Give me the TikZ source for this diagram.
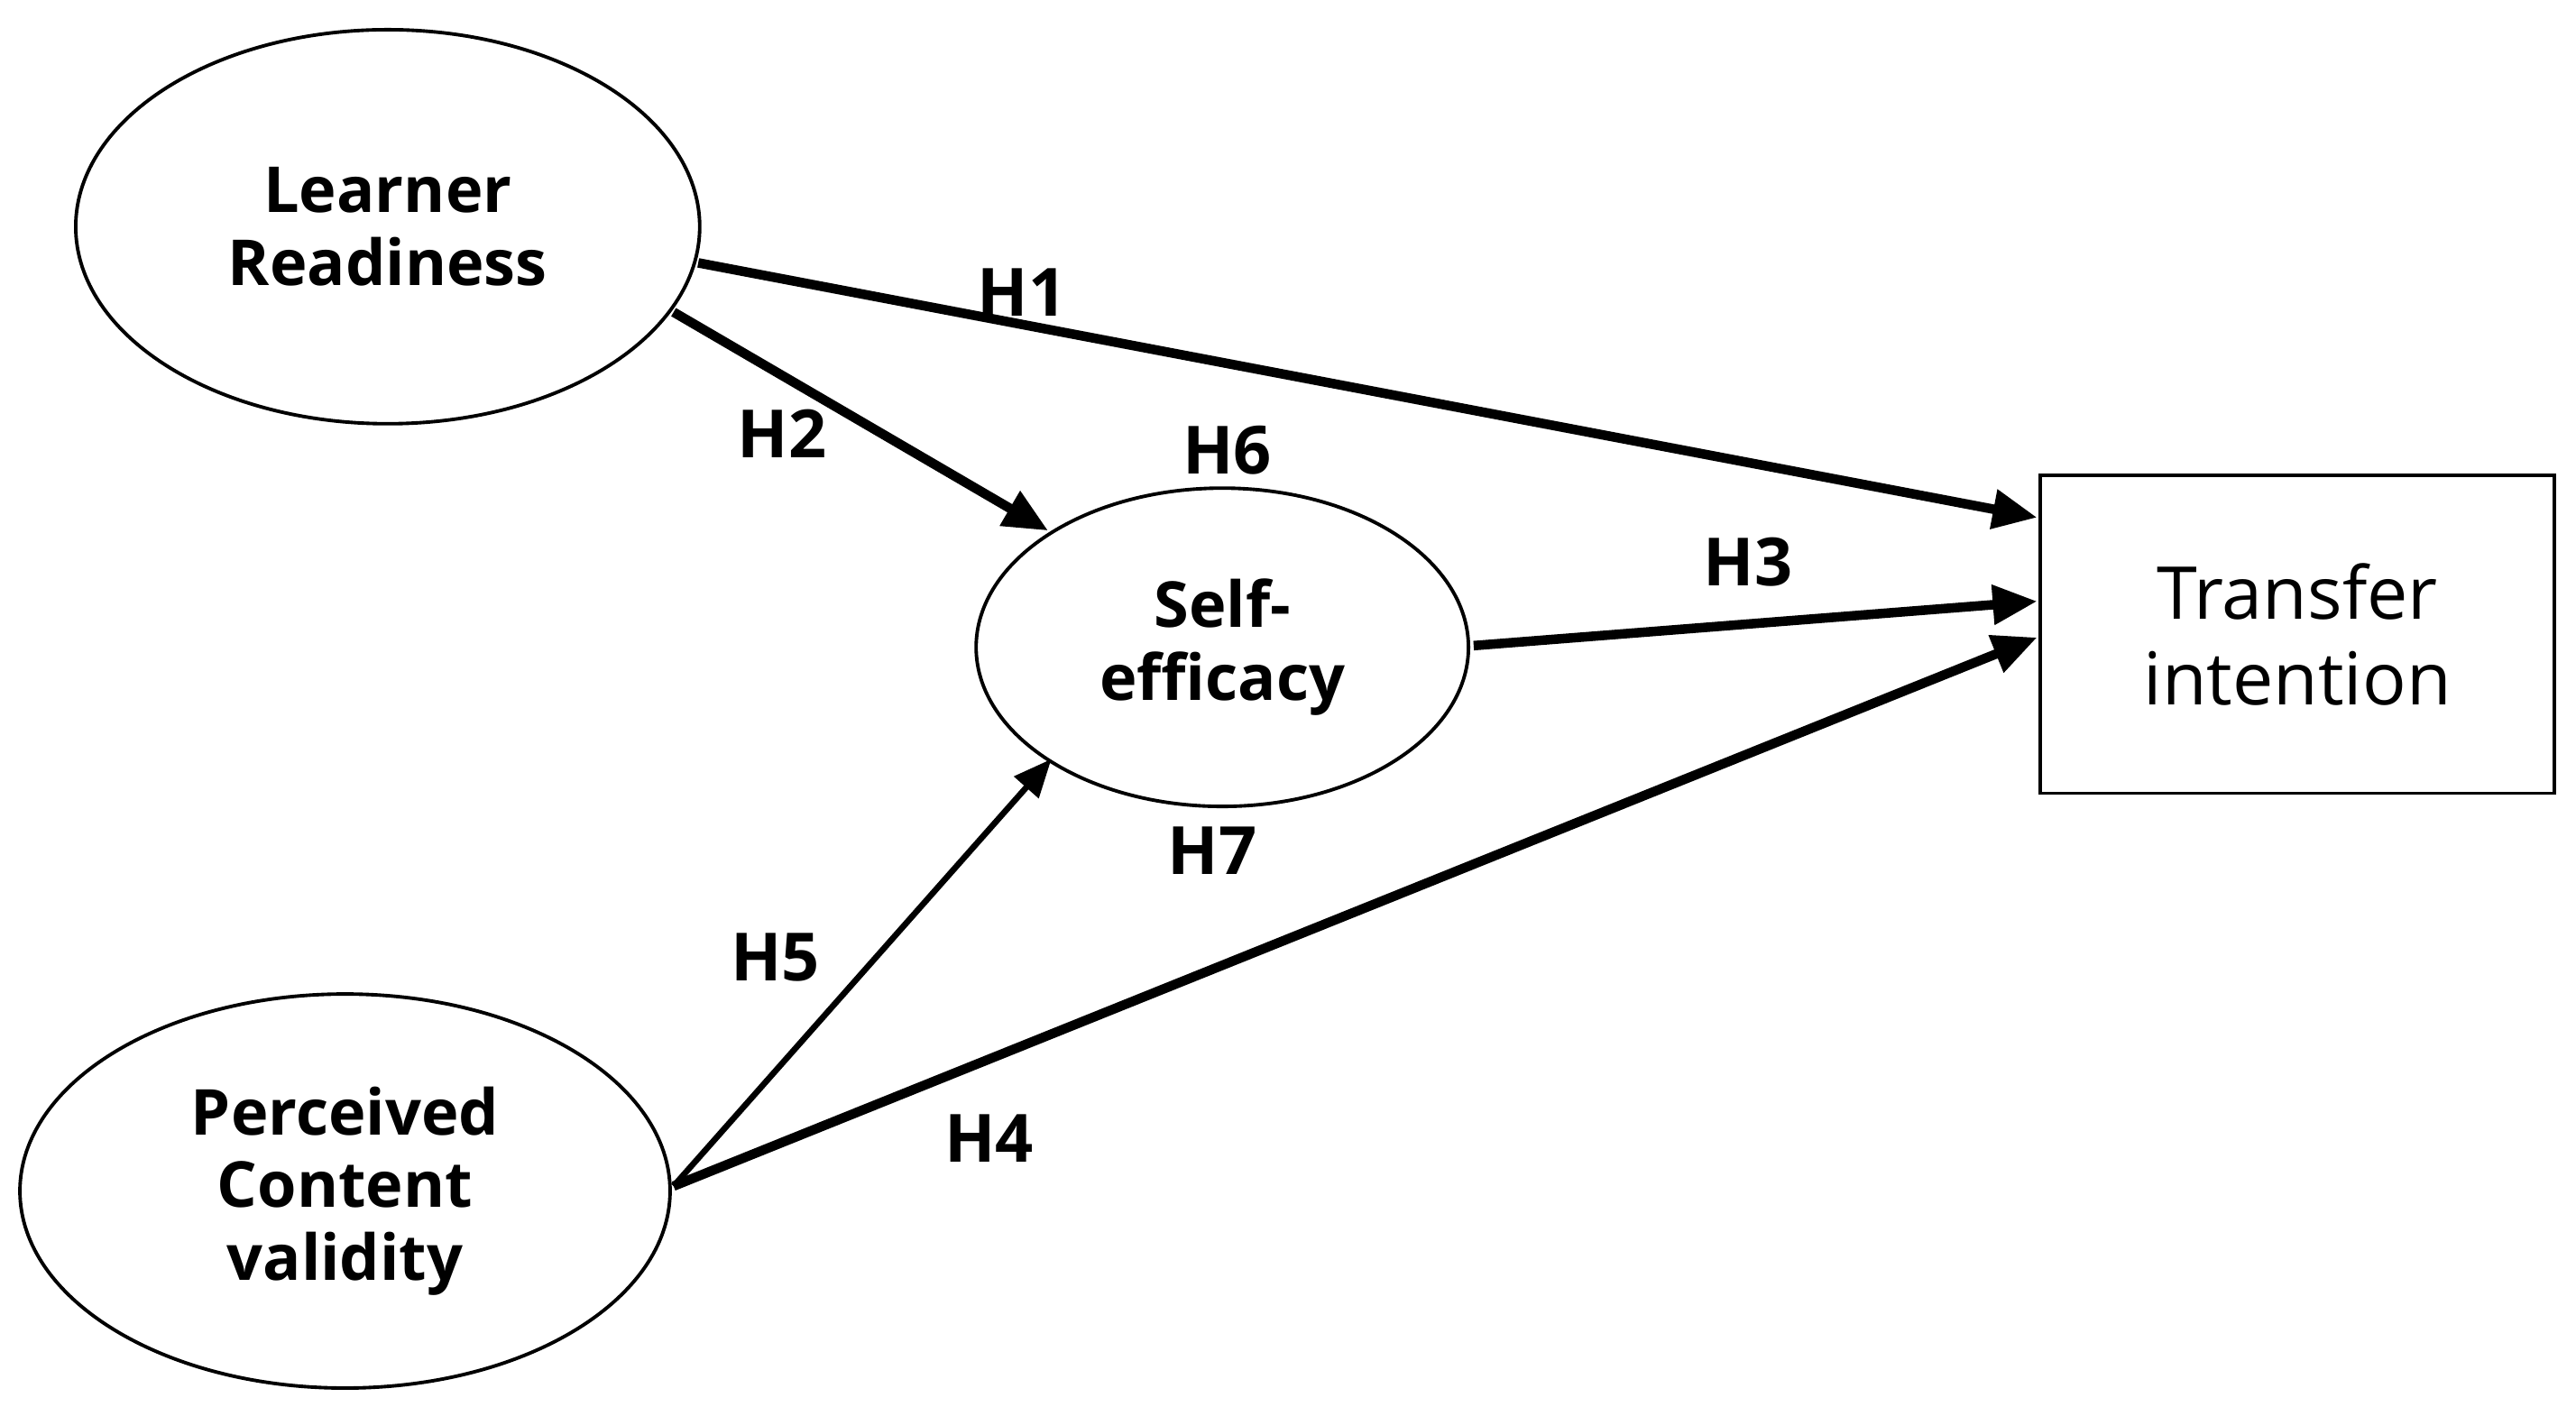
\documentclass[tikz,border=0pt]{standalone}
\usepackage{fontspec}
\setmainfont{Open Sans}
\usetikzlibrary{shapes.geometric,arrows.meta}
\begin{document}
\begin{tikzpicture}[x=0.018214cm,y=-0.018214cm,
  ell/.style={draw,ellipse,line width=1.1pt,align=center,font=\fontsize{20}{23}\selectfont\bfseries,inner sep=0pt},
  arr/.style={line width=3pt,-{Triangle[length=14pt,width=12pt]}},
  thin/.style={line width=1.9pt,-{Triangle[length=12pt,width=10pt]}},
  lab/.style={font=\fontsize{21}{26}\selectfont\bfseries}]
\useasboundingbox (0,0) rectangle (1568,856);
\fill[white] (0,0) rectangle (1568,856);
\node[ell,minimum width=6.92cm,minimum height=4.37cm] (lr) at (236,138) {Learner\\Readiness};
\node[ell,minimum width=7.21cm,minimum height=4.37cm] (pc) at (210,725) {Perceived\\Content\\validity};
\node[ell,minimum width=5.46cm,minimum height=3.53cm] (se) at (744,394) {Self-\\efficacy};
\node[draw,line width=1.1pt,minimum width=5.70cm,minimum height=3.53cm,align=center,font=\fontsize{23}{27}\selectfont] (ti) at (1398.5,386) {Transfer\\intention};
\coordinate (c1) at (1240,315);
\coordinate (c3) at (1240,366);
\coordinate (c4) at (1240,388);
\coordinate (s1) at (425,160);
\coordinate (s2) at (410,190);
\coordinate (s3) at (897,393);
\coordinate (s4) at (410,722);
\coordinate (e2) at (638,323);
\coordinate (e5) at (640,462);
\draw[arr] (s1) -- (c1);
\draw[arr] (s2) -- (e2);
\draw[arr] (s3) -- (c3);
\draw[arr] (s4) -- (c4);
\draw[thin] (s4) -- (e5);
\node[lab] (h1) at (622,178) {H1};
\node[lab] (h2) at (476,264) {H2};
\node[lab] (h6) at (747,274) {H6};
\node[lab] (h3) at (1064,342) {H3};
\node[lab] (h7) at (738,518) {H7};
\node[lab] (h5) at (472,583) {H5};
\node[lab] (h4) at (602,693) {H4};
\end{tikzpicture}
\end{document}
